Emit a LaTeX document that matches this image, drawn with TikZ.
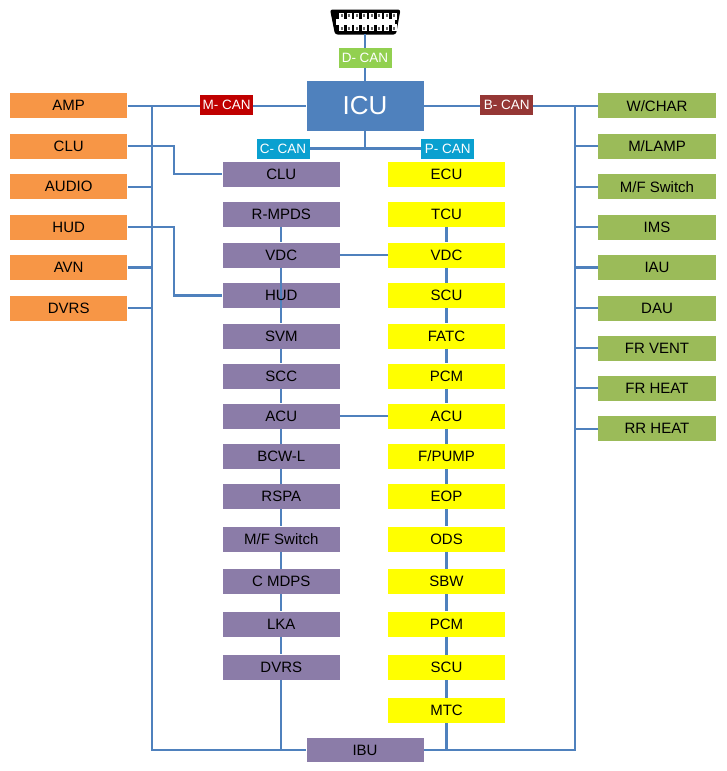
\documentclass[tikz,border=0pt]{standalone}
\usepackage{fontspec}
\setmainfont{Liberation Sans}
\usepackage{xcolor}
\definecolor{buscol}{RGB}{79,129,189}
\definecolor{orangecol}{RGB}{247,150,70}
\definecolor{greencol}{RGB}{155,187,89}
\definecolor{purplecol}{RGB}{139,124,168}
\definecolor{yellowcol}{RGB}{255,255,0}
\definecolor{mcancol}{RGB}{192,0,0}
\definecolor{bcancol}{RGB}{149,55,53}
\definecolor{ccancol}{RGB}{10,160,208}
\definecolor{dcancol}{RGB}{146,208,80}
\begin{document}
\begin{tikzpicture}[
  x=1pt, y=-1pt,
  ecu/.style={rectangle, fill=#1, minimum width=117.5pt, minimum height=25pt,
              inner sep=0pt, text=black, font=\fontsize{15}{18}\selectfont},
  can/.style={rectangle, fill=#1, minimum width=53pt, minimum height=20pt,
              inner sep=0pt, text=white, font=\fontsize{13.5}{15}\selectfont},
  bus/.style={draw=buscol, line width=2.2pt},
]
  \useasboundingbox (0,0) rectangle (726,771);

  % Gateway and CAN labels
  \node[rectangle, fill=buscol, minimum width=117pt, minimum height=50pt, inner sep=0pt,
        text=white, font=\fontsize{26}{28}\selectfont] (icu) at (365,106) {ICU};
  \node[can=dcancol] (dcan) at (365,58) {D- CAN};
  \node[can=mcancol] (mcan) at (226.7,105) {M- CAN};
  \node[can=bcancol] (bcan) at (506.7,105) {B- CAN};
  \node[can=ccancol] (ccan) at (283,148.5) {C- CAN};
  \node[can=ccancol] (pcan) at (447.7,148.5) {P- CAN};

  % Column 1: M-CAN
  \node[ecu=orangecol] (amp) at (68.7,105.7) {AMP};
  \node[ecu=orangecol] (clum) at (68.7,146) {CLU};
  \node[ecu=orangecol] (audio) at (68.7,186.7) {AUDIO};
  \node[ecu=orangecol] (hudm) at (68.7,227) {HUD};
  \node[ecu=orangecol] (avn) at (68.7,267.5) {AVN};
  \node[ecu=orangecol] (dvrsm) at (68.7,308) {DVRS};

  % Column 2: C-CAN
  \node[ecu=purplecol] (cluc) at (281.3,174.3) {CLU};
  \node[ecu=purplecol] (rmpds) at (281.3,214.5) {R-MPDS};
  \node[ecu=purplecol] (vdcc) at (281.3,255) {VDC};
  \node[ecu=purplecol] (hudc) at (281.3,295.5) {};
  \node[ecu=purplecol] (svm) at (281.3,336) {SVM};
  \node[ecu=purplecol] (scc) at (281.3,376) {SCC};
  \node[ecu=purplecol] (acuc) at (281.3,416) {ACU};
  \node[ecu=purplecol] (bcwl) at (281.3,456.5) {BCW-L};
  \node[ecu=purplecol] (rspa) at (281.3,496.5) {RSPA};
  \node[ecu=purplecol] (mfc) at (281.3,539) {M/F Switch};
  \node[ecu=purplecol] (cmdps) at (281.3,581.5) {C MDPS};
  \node[ecu=purplecol] (lka) at (281.3,624) {LKA};
  \node[ecu=purplecol] (dvrsc) at (281.3,667) {DVRS};

  % Column 3: P-CAN
  \node[ecu=yellowcol] (ecup) at (446.5,174.3) {ECU};
  \node[ecu=yellowcol] (tcu) at (446.5,214.5) {TCU};
  \node[ecu=yellowcol] (vdcp) at (446.5,255) {VDC};
  \node[ecu=yellowcol] (scup) at (446.5,295.5) {SCU};
  \node[ecu=yellowcol] (fatc) at (446.5,336) {FATC};
  \node[ecu=yellowcol] (pcma) at (446.5,376) {PCM};
  \node[ecu=yellowcol] (acup) at (446.5,416) {ACU};
  \node[ecu=yellowcol] (fpump) at (446.5,456.5) {F/PUMP};
  \node[ecu=yellowcol] (eop) at (446.5,496.5) {EOP};
  \node[ecu=yellowcol] (ods) at (446.5,539) {ODS};
  \node[ecu=yellowcol] (sbw) at (446.5,581.5) {SBW};
  \node[ecu=yellowcol] (pcmb) at (446.5,624) {PCM};
  \node[ecu=yellowcol] (scub) at (446.5,667.5) {SCU};
  \node[ecu=yellowcol] (mtc) at (446.5,710.5) {MTC};

  % Column 4: B-CAN
  \node[ecu=greencol] (wchar) at (657,105.7) {W/CHAR};
  \node[ecu=greencol] (mlamp) at (657,146) {M/LAMP};
  \node[ecu=greencol] (mfb) at (657,186.7) {M/F Switch};
  \node[ecu=greencol] (ims) at (657,227) {IMS};
  \node[ecu=greencol] (iau) at (657,267.5) {IAU};
  \node[ecu=greencol] (dau) at (657,308) {DAU};
  \node[ecu=greencol] (frvent) at (657,348) {FR VENT};
  \node[ecu=greencol] (frheat) at (657,388.3) {FR HEAT};
  \node[ecu=greencol] (rrheat) at (657,428.7) {RR HEAT};

  \node[ecu=purplecol, minimum width=117pt, minimum height=24pt] (ibu) at (365,750) {IBU};

  % Diagnostic connector
  \coordinate (obd) at (365,34);
  \fill[black, rounded corners=2.5pt] (330,9.5) -- (400.5,9.5) -- (396,34.5) -- (335,34.5) -- cycle;
  \fill[white] (336,19) rectangle (395,25);
  \foreach \px in {0,...,7} {
    \fill[white] (339+7.5*\px,13) rectangle ++(5,7);
    \fill[white] (339+7.5*\px,24) rectangle ++(5,7);
    \fill[black!60] (340.5+7.5*\px,14) rectangle ++(2,3);
    \fill[black!60] (340.5+7.5*\px,27) rectangle ++(2,3);
  }

  \coordinate (lbus) at (152,105.7);
  \coordinate (lbot) at (152,750);
  \coordinate (rbus) at (575,105.7);
  \coordinate (rbot) at (575,750);
  \coordinate (elbowa) at (174.3,160);
  \coordinate (elbowb) at (174.3,260);

  % Arrows
  \draw[bus] (obd) -- (dcan);
  \draw[bus] (dcan) -- (icu);
  \draw[bus] (amp.east) -- (amp.east -| mcan.west);
  \draw[bus] (mcan.east |- amp.east) -- (amp.east -| icu.west);
  \draw[bus] (wchar.west -| icu.east) -- (wchar.west -| bcan.west);
  \draw[bus] (wchar.west -| bcan.east) -- (wchar.west);
  \draw[bus] (ccan.east) -- (pcan.west);
  \draw[bus] (icu.south) -- (icu.south |- ccan);

  % Left bus
  \draw[bus] (lbus) -- (lbot) -- (ibu.west);
  \draw[bus] (audio) -- (audio -| lbus);
  \draw[bus] (avn) -- (avn -| lbus);
  \draw[bus] (dvrsm) -- (dvrsm -| lbus);
  \draw[bus] (clum.east) -| (elbowa) |- (cluc.west);
  \draw[bus] (hudm.east) -| (elbowb) |- (hudc.west);

  % Right bus
  \draw[bus] (rbus) -- (rbot) -- (ibu.east);
  \draw[bus] (mlamp) -- (mlamp -| rbus);
  \draw[bus] (mfb) -- (mfb -| rbus);
  \draw[bus] (ims) -- (ims -| rbus);
  \draw[bus] (iau) -- (iau -| rbus);
  \draw[bus] (dau) -- (dau -| rbus);
  \draw[bus] (frvent) -- (frvent -| rbus);
  \draw[bus] (frheat) -- (frheat -| rbus);
  \draw[bus] (rrheat) -- (rrheat -| rbus);

  % C-CAN chain
  \draw[bus] (rmpds) -- (vdcc);
  \draw[bus] (vdcc) -- (svm);
  \draw[bus] (svm) -- (scc);
  \draw[bus] (scc) -- (acuc);
  \draw[bus] (acuc) -- (bcwl);
  \draw[bus] (bcwl) -- (rspa);
  \draw[bus] (rspa) -- (mfc);
  \draw[bus] (mfc) -- (cmdps);
  \draw[bus] (cmdps) -- (lka);
  \draw[bus] (lka) -- (dvrsc);
  \draw[bus] (dvrsc.south) -- (dvrsc.south |- ibu);
  \node[text=black, font=\fontsize{15}{18}\selectfont] (hudtext) at (hudc) {HUD};

  % P-CAN chain
  \draw[bus] (tcu) -- (vdcp);
  \draw[bus] (vdcp) -- (scup);
  \draw[bus] (scup) -- (fatc);
  \draw[bus] (fatc) -- (pcma);
  \draw[bus] (pcma) -- (acup);
  \draw[bus] (acup) -- (fpump);
  \draw[bus] (fpump) -- (eop);
  \draw[bus] (eop) -- (ods);
  \draw[bus] (ods) -- (sbw);
  \draw[bus] (sbw) -- (pcmb);
  \draw[bus] (pcmb) -- (scub);
  \draw[bus] (scub) -- (mtc);
  \draw[bus] (mtc.south) -- (mtc.south |- ibu);

  % Links between the two columns
  \draw[bus] (vdcc) -- (vdcp);
  \draw[bus] (acuc) -- (acup);

\end{tikzpicture}
\end{document}
